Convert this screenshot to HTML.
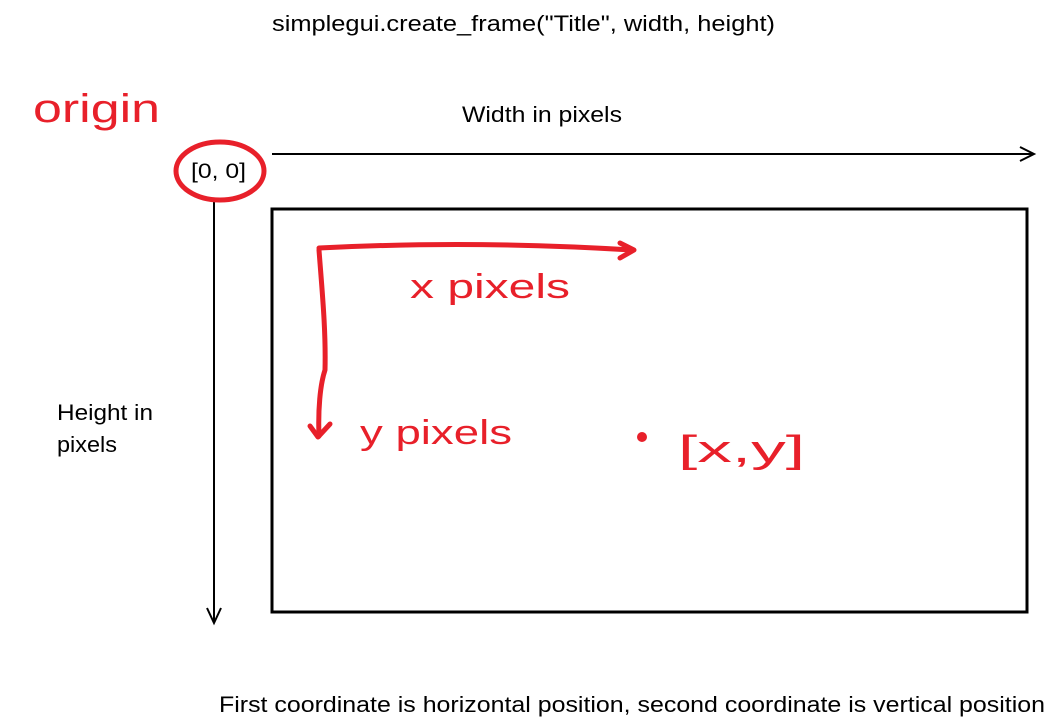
<!DOCTYPE html>
<html><head><style>
html,body{margin:0;padding:0;background:#fff;}
svg{display:block;}
</style></head><body>
<svg width="1046" height="717" viewBox="0 0 1046 717" xmlns="http://www.w3.org/2000/svg">
<g font-family="Liberation Sans, sans-serif" font-size="22" fill="#000">
<text x="272" y="31" textLength="503" lengthAdjust="spacingAndGlyphs">simplegui.create_frame("Title", width, height)</text>
<text x="462" y="122" textLength="160" lengthAdjust="spacingAndGlyphs">Width in pixels</text>
<text x="57" y="420" textLength="96" lengthAdjust="spacingAndGlyphs">Height in</text>
<text x="57" y="452" textLength="60" lengthAdjust="spacingAndGlyphs">pixels</text>
<text x="191" y="178" font-size="21" textLength="55" lengthAdjust="spacingAndGlyphs">[0, 0]</text>
<text x="219" y="712" textLength="826" lengthAdjust="spacingAndGlyphs">First coordinate is horizontal position, second coordinate is vertical position</text>
</g>
<g stroke="#000" fill="none">
<line x1="272" y1="154" x2="1033" y2="154" stroke-width="2"/>
<polyline points="1020,147 1034,154 1020,161" stroke-width="2"/>
<line x1="214" y1="200" x2="214" y2="622" stroke-width="2"/>
<polyline points="207,608 214,623 221,608" stroke-width="2"/>
<rect x="272" y="209" width="755" height="403" stroke-width="3"/>
</g>
<g stroke="#e8202a" fill="none" stroke-width="5" stroke-linecap="round" stroke-linejoin="round">
<ellipse cx="220" cy="171" rx="44" ry="29"/>
<path d="M319,248 C400,244 500,242 632,250"/>
<path d="M620,243 L634,250 L620,258"/>
<path d="M319,250 C322,290 326,330 325,370 C320,385 318,410 319,436"/>
<path d="M310,426 L318,437 L330,424"/>
<circle cx="642" cy="437" r="2.5" fill="#e8202a"/>
</g>
<g font-family="Liberation Sans, sans-serif" fill="#e8202a">
<text x="33" y="122" font-size="40" textLength="127" lengthAdjust="spacingAndGlyphs">origin</text>
<text x="410" y="298" font-size="34" textLength="160" lengthAdjust="spacingAndGlyphs">x pixels</text>
<text x="360" y="444" font-size="34" textLength="152" lengthAdjust="spacingAndGlyphs">y pixels</text>
<text x="678" y="462" font-size="38" textLength="127" lengthAdjust="spacingAndGlyphs">[x,y]</text>
</g>
</svg>
</body></html>
